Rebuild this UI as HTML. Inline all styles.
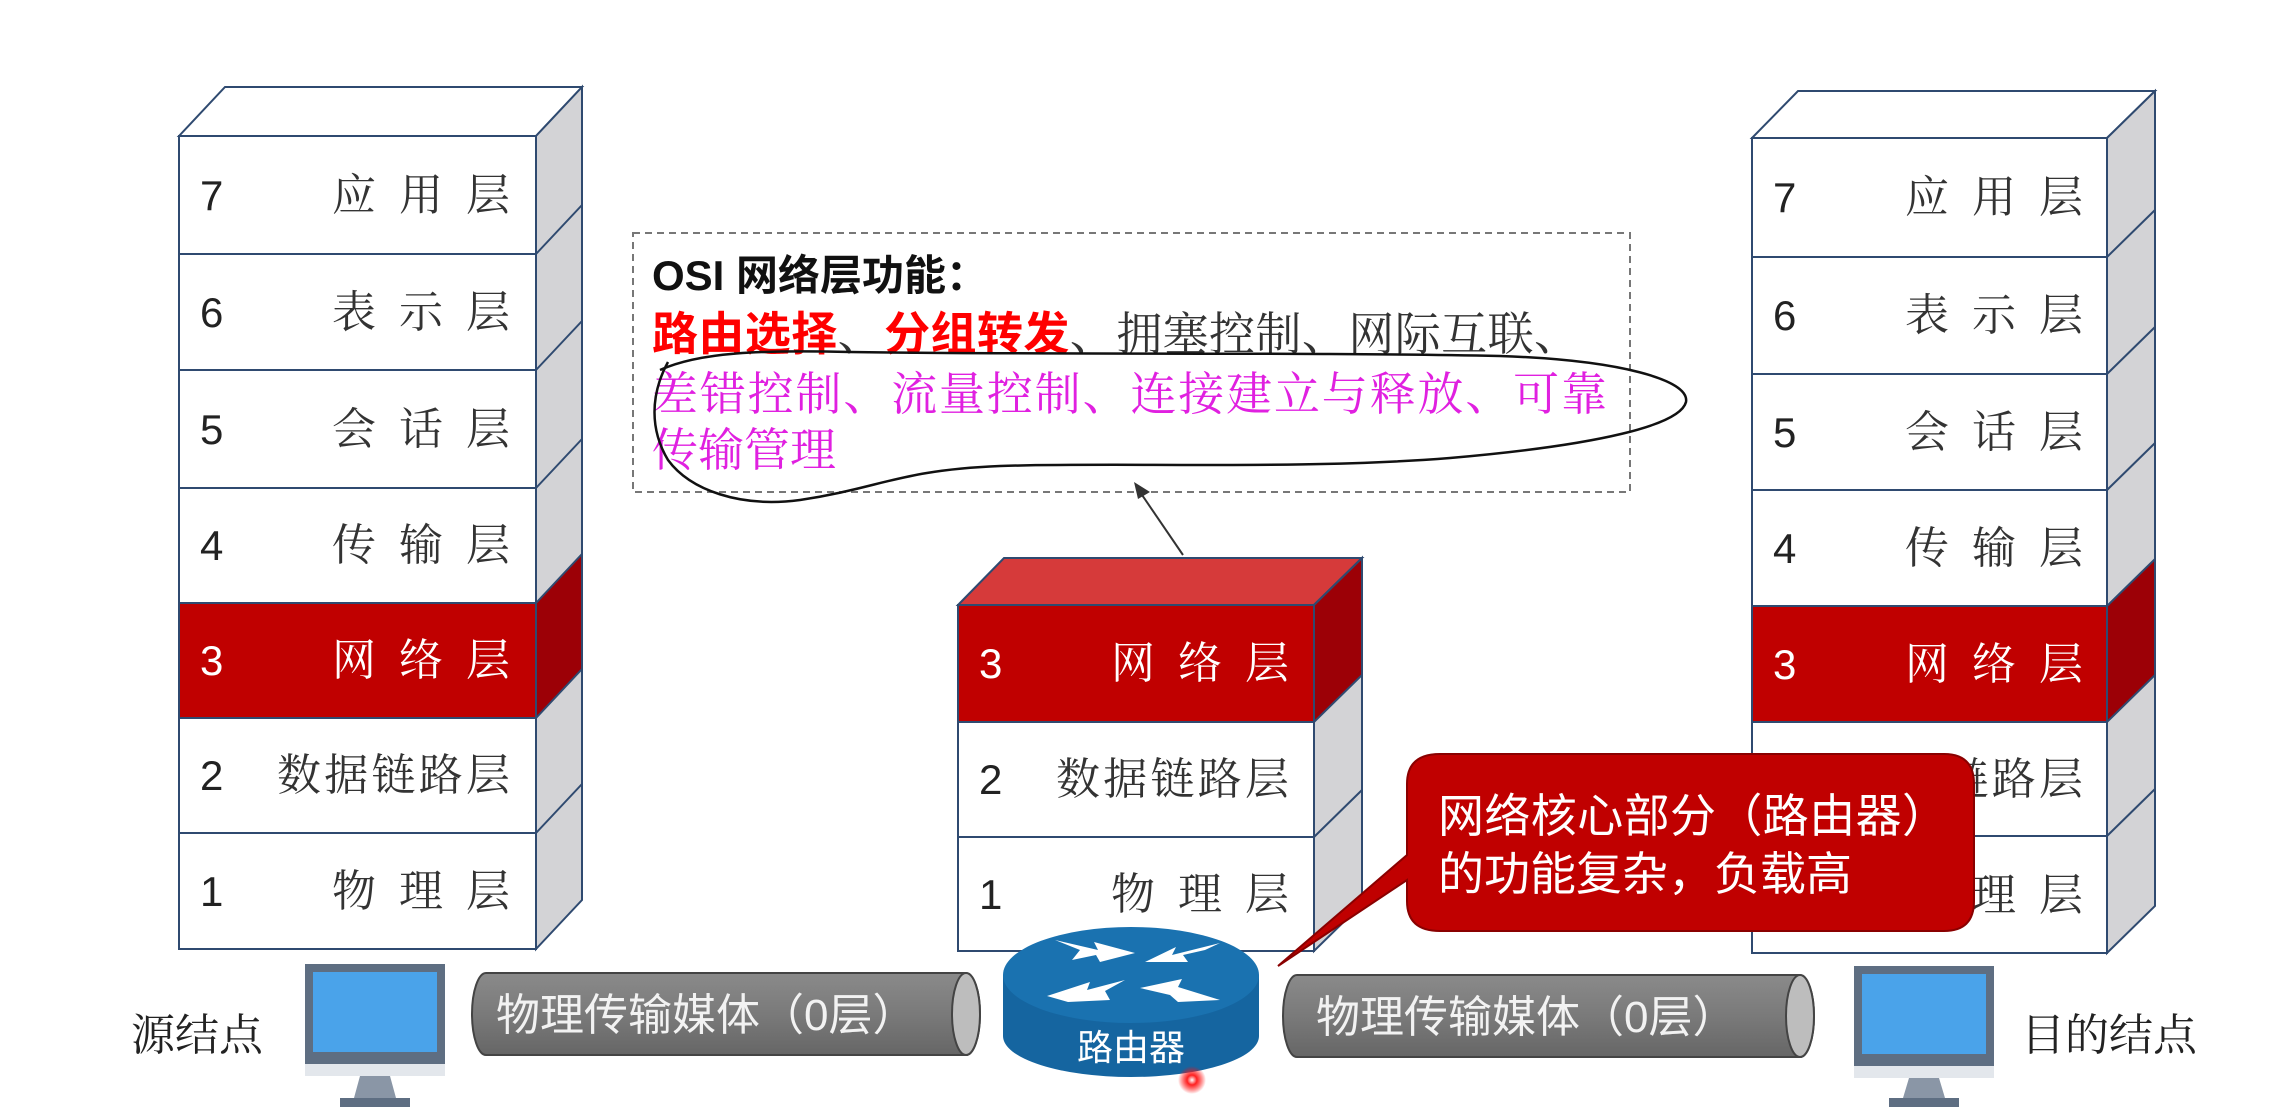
<!DOCTYPE html>
<html><head><meta charset="utf-8"><style>
html,body{margin:0;padding:0;background:#fff;}
svg{display:block;font-family:"Liberation Sans","Noto Sans CJK SC",sans-serif;}
.n{font-size:42px;fill:#222;}
.t{font-size:44px;fill:#333;font-family:"Liberation Serif","Noto Serif CJK SC",serif;}
.w{fill:#fff;}
.s{font-family:"Liberation Serif","Noto Serif CJK SC",serif;}
</style></head><body>
<svg width="2286" height="1107" viewBox="0 0 2286 1107" xmlns="http://www.w3.org/2000/svg">
<defs>
<linearGradient id="pipe" x1="0" y1="0" x2="0" y2="1"><stop offset="0" stop-color="#8a8a8a"/><stop offset="0.5" stop-color="#7a7a7a"/><stop offset="1" stop-color="#666"/></linearGradient>
<radialGradient id="dot"><stop offset="0" stop-color="#fff"/><stop offset="0.35" stop-color="#ff2020"/><stop offset="1" stop-color="#ff0000" stop-opacity="0"/></radialGradient>
</defs>
<g stroke="#2f4a70" stroke-width="2">
<polygon points="179,136 225,87 582,87 536,136" fill="#fff"/>
<polygon points="536,136 582,87 582,900 536,949" fill="#d3d3d6"/>
<polygon points="536,603 582,554 582,669 536,718" fill="#9c0006"/>
<rect x="179" y="136" width="357" height="813" fill="#fff"/>
<rect x="179" y="603" width="357" height="115" fill="#c00000"/>
<line x1="179" y1="254" x2="536" y2="254"/><line x1="179" y1="370" x2="536" y2="370"/><line x1="179" y1="488" x2="536" y2="488"/><line x1="179" y1="833" x2="536" y2="833"/>
<line x1="536" y1="254" x2="582" y2="205"/><line x1="536" y1="370" x2="582" y2="321"/><line x1="536" y1="488" x2="582" y2="439"/><line x1="536" y1="833" x2="582" y2="784"/>
<polygon points="958,605 1004,558 1362,558 1314,605" fill="#d63a3a"/>
<polygon points="1314,605 1362,558 1362,904 1314,951" fill="#d3d3d6"/>
<polygon points="1314,605 1362,558 1362,675 1314,722" fill="#9c0006"/>
<rect x="958" y="605" width="356" height="346" fill="#fff"/>
<rect x="958" y="605" width="356" height="117" fill="#c00000"/>
<line x1="958" y1="837" x2="1314" y2="837"/><line x1="1314" y1="837" x2="1362" y2="790"/>
<polygon points="1752,138 1798,91 2155,91 2107,138" fill="#fff"/>
<polygon points="2107,138 2155,91 2155,906 2107,953" fill="#d3d3d6"/>
<polygon points="2107,606 2155,559 2155,675 2107,722" fill="#9c0006"/>
<rect x="1752" y="138" width="355" height="815" fill="#fff"/>
<rect x="1752" y="606" width="355" height="116" fill="#c00000"/>
<line x1="1752" y1="257" x2="2107" y2="257"/><line x1="1752" y1="374" x2="2107" y2="374"/><line x1="1752" y1="490" x2="2107" y2="490"/><line x1="1752" y1="836" x2="2107" y2="836"/>
<line x1="2107" y1="257" x2="2155" y2="210"/><line x1="2107" y1="374" x2="2155" y2="327"/><line x1="2107" y1="490" x2="2155" y2="443"/><line x1="2107" y1="836" x2="2155" y2="789"/>
</g>
<g>
<text class="n" x="200" y="210">7</text><text class="t" x="332 399 466" y="210">应用层</text>
<text class="n" x="200" y="327">6</text><text class="t" x="332 399 466" y="327">表示层</text>
<text class="n" x="200" y="444">5</text><text class="t" x="332 399 466" y="444">会话层</text>
<text class="n" x="200" y="560">4</text><text class="t" x="332 399 466" y="560">传输层</text>
<text class="n w" x="200" y="675">3</text><text class="t w" x="332 399 466" y="675">网络层</text>
<text class="n" x="200" y="790">2</text><text class="t" x="277" y="790" textLength="233">数据链路层</text>
<text class="n" x="200" y="906">1</text><text class="t" x="332 399 466" y="906">物理层</text>
<text class="n w" x="979" y="678">3</text><text class="t w" x="1111 1178 1245" y="678">网络层</text>
<text class="n" x="979" y="794">2</text><text class="t" x="1056" y="794" textLength="233">数据链路层</text>
<text class="n" x="979" y="909">1</text><text class="t" x="1111 1178 1245" y="909">物理层</text>
<text class="n" x="1773" y="212">7</text><text class="t" x="1905 1972 2039" y="212">应用层</text>
<text class="n" x="1773" y="330">6</text><text class="t" x="1905 1972 2039" y="330">表示层</text>
<text class="n" x="1773" y="447">5</text><text class="t" x="1905 1972 2039" y="447">会话层</text>
<text class="n" x="1773" y="563">4</text><text class="t" x="1905 1972 2039" y="563">传输层</text>
<text class="n w" x="1773" y="679">3</text><text class="t w" x="1905 1972 2039" y="679">网络层</text>
<text class="t" x="1850" y="794" textLength="233">数据链路层</text>
<text class="t" x="1905 1972 2039" y="910">物理层</text>
</g>
<rect x="633" y="233" width="997" height="259" fill="none" stroke="#777" stroke-width="2" stroke-dasharray="7,5"/>
<text x="652" y="290" font-size="42" font-weight="bold" fill="#111">OSI 网络层功能：</text>
<text x="652" y="350" font-size="46" textLength="928"><tspan fill="#ff0000" font-weight="bold">路由选择</tspan><tspan fill="#333" class="s">、</tspan><tspan fill="#ff0000" font-weight="bold">分组转发</tspan><tspan fill="#333" class="s">、拥塞控制、网际互联、</tspan></text>
<text class="s" x="652" y="410" font-size="46" fill="#e020e0" textLength="955">差错控制、流量控制、连接建立与释放、可靠</text>
<text class="s" x="652" y="466" font-size="46" fill="#e020e0">传输管理</text>
<path d="M660,370 C700,352 760,350 850,352 C1050,355 1300,352 1500,356 C1620,360 1690,380 1686,402 C1680,425 1600,445 1450,458 C1300,470 1120,462 1000,466 C900,470 880,488 800,500 C740,508 690,490 668,460 C650,430 650,395 668,362" fill="none" stroke="#111" stroke-width="2.5"/>
<line x1="1183" y1="555" x2="1140" y2="492" stroke="#333" stroke-width="2"/>
<polygon points="1134,482 1150,492 1138,499" fill="#333"/>
<rect x="472" y="973" width="508" height="82" rx="14" ry="41" fill="url(#pipe)" stroke="#444" stroke-width="2"/>
<ellipse cx="966" cy="1014" rx="14" ry="41" fill="#bdbdbd" stroke="#444" stroke-width="2"/>
<text x="496" y="1030" font-size="44" fill="#f2f2f2">物理传输媒体（0层）</text>
<rect x="1283" y="975" width="531" height="82" rx="14" ry="41" fill="url(#pipe)" stroke="#444" stroke-width="2"/>
<ellipse cx="1800" cy="1016" rx="14" ry="41" fill="#bdbdbd" stroke="#444" stroke-width="2"/>
<text x="1316" y="1032" font-size="44" fill="#f2f2f2">物理传输媒体（0层）</text>
<path d="M1003,975 L1003,1036 A128,41 0 0 0 1259,1036 L1259,975 Z" fill="#1565a0"/>
<ellipse cx="1131" cy="975" rx="128" ry="48" fill="#1a72b0"/>
<g fill="#fff">
<polygon points="1055,940 1098,950 1094,942 1135,953 1100,962 1096,955 1072,960 1080,950"/>
<polygon points="1220,943 1172,955 1176,947 1145,962 1188,962 1183,955 1205,950"/>
<polygon points="1047,996 1090,982 1087,990 1125,980 1105,991 1110,1000 1068,1002"/>
<polygon points="1220,1000 1178,987 1182,979 1140,988 1170,995 1178,1002"/>
</g>
<text x="1131" y="1060" font-size="36" fill="#fff" text-anchor="middle">路由器</text>
<circle cx="1192" cy="1080" r="14" fill="url(#dot)"/>
<g>
<rect x="305" y="964" width="140" height="100" fill="#5e6e82"/>
<rect x="313" y="972" width="124" height="80" fill="#4aa3ea"/>
<rect x="305" y="1064" width="140" height="12" fill="#e3e7ec"/>
<polygon points="360,1076 390,1076 396,1098 354,1098" fill="#8a96a6"/>
<rect x="340" y="1098" width="70" height="9" fill="#5e6e82"/>
<rect x="1854" y="966" width="140" height="100" fill="#5e6e82"/>
<rect x="1862" y="974" width="124" height="80" fill="#4aa3ea"/>
<rect x="1854" y="1066" width="140" height="12" fill="#e3e7ec"/>
<polygon points="1909,1078 1939,1078 1945,1098 1903,1098" fill="#8a96a6"/>
<rect x="1889" y="1098" width="70" height="9" fill="#5e6e82"/>
</g>
<text class="s" x="131" y="1050" font-size="44" fill="#222">源结点</text>
<text class="s" x="2021" y="1050" font-size="44" fill="#222">目的结点</text>
<path d="M1440,754 L1944,754 Q1974,754 1974,784 L1974,901 Q1974,931 1944,931 L1440,931 Q1407,931 1407,901 L1407,880 L1278,966 L1407,855 L1407,784 Q1407,754 1440,754 Z" fill="#c00000" stroke="#8a0000" stroke-width="2"/>
<text x="1438" y="832" font-size="46" fill="#fff" textLength="510">网络核心部分（路由器）</text>
<text x="1438" y="890" font-size="46" fill="#fff">的功能复杂，负载高</text>
</svg>
</body></html>
